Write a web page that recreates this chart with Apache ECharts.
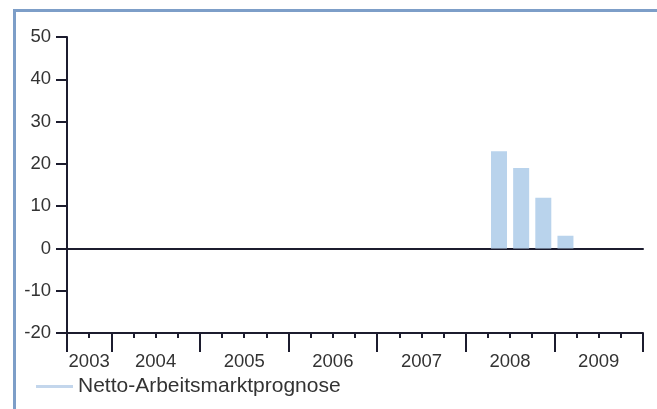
<!DOCTYPE html>
<html>
<head>
<meta charset="utf-8">
<script src="https://cdn.jsdelivr.net/npm/echarts@6/dist/echarts.min.js"></script>
<style>
  html, body { margin: 0; padding: 0; background: #ffffff; }
  #wrap { position: relative; width: 657px; height: 409px; overflow: hidden; }
  #frame { position: absolute; left: 13px; top: 9px; width: 700px; height: 500px;
           border-top: 3px solid #7d9ec8; border-left: 3px solid #7d9ec8; box-sizing: border-box; }
  #chart { position: absolute; left: 0; top: 0; width: 657px; height: 409px; }
</style>
</head>
<body>
<div id="wrap">
  <div id="frame"></div>
  <div id="chart"></div>
</div>
<script>
// Quarterly categories (2003 Q3 .. 2009 Q4)
var quarters = [
  '2003 Q3', '2003 Q4',
  '2004 Q1', '2004 Q2', '2004 Q3', '2004 Q4',
  '2005 Q1', '2005 Q2', '2005 Q3', '2005 Q4',
  '2006 Q1', '2006 Q2', '2006 Q3', '2006 Q4',
  '2007 Q1', '2007 Q2', '2007 Q3', '2007 Q4',
  '2008 Q1', '2008 Q2', '2008 Q3', '2008 Q4',
  '2009 Q1', '2009 Q2', '2009 Q3', '2009 Q4'
];
var seriesName = 'Netto-Arbeitsmarktprognose';
var values = [
  null, null,
  null, null, null, null,
  null, null, null, null,
  null, null, null, null,
  null, null, null, null,
  null, 23, 19, 12,
  3, null, null, null
];
var yMin = -20, yMax = 50, yStep = 10;

// boundaries: boundary i = start of quarter i, last = end
var boundaries = quarters.concat(['end']);
function yearOf(s) { return s.split(' ')[0]; }
var yearFirst = {}, yearLast = {};
quarters.forEach(function (q, i) {
  var y = yearOf(q);
  if (!(y in yearFirst)) yearFirst[y] = i;
  yearLast[y] = i + 1;
});
var labelAt = {};
Object.keys(yearFirst).forEach(function (y) {
  labelAt[(yearFirst[y] + yearLast[y]) / 2] = y;
});
var majorAt = {};
Object.keys(yearFirst).forEach(function (y) { majorAt[yearFirst[y]] = true; majorAt[yearLast[y]] = true; });

var axisColor = '#1c1c2e';
var textColor = '#333333';
var barColor = '#b9d3ec';

var chart = echarts.init(document.getElementById('chart'), null, { renderer: 'canvas' });
chart.setOption({
  backgroundColor: 'transparent',
  animation: false,
  grid: { left: 67, right: 14, top: 37, bottom: 76, containLabel: false },
  legend: {
    left: 36, top: 376, padding: 0,
    icon: 'rect', itemWidth: 37, itemHeight: 3,
    textStyle: { fontFamily: 'Liberation Sans, Arial, sans-serif', fontSize: 21, color: textColor },
    data: [{ name: seriesName, itemStyle: { color: '#c3d6ec' } }]
  },
  xAxis: [
    {
      type: 'category', data: quarters, boundaryGap: true, position: 'bottom',
      axisLine: { show: true, onZero: true, lineStyle: { color: axisColor, width: 2 } },
      axisTick: { show: false }, axisLabel: { show: false }, splitLine: { show: false }
    },
    {
      type: 'category', data: quarters, boundaryGap: true, position: 'bottom',
      axisLine: { show: true, onZero: false, lineStyle: { color: axisColor, width: 2 } },
      axisTick: { show: true, interval: 0, length: 5, lineStyle: { color: axisColor, width: 2 } },
      axisLabel: { show: false }, splitLine: { show: false }
    },
    {
      type: 'category', data: boundaries, boundaryGap: false, position: 'bottom',
      axisLine: { show: false, onZero: false },
      axisTick: {
        show: true, length: 19, lineStyle: { color: axisColor, width: 2 },
        interval: function (i) { return !!majorAt[i]; }
      },
      axisLabel: {
        show: true, margin: 19, fontFamily: 'Liberation Sans, Arial, sans-serif', fontSize: 18.5, color: textColor,
        interval: function (i) { return labelAt[i] !== undefined; },
        formatter: function (v, i) { return labelAt[i] !== undefined ? labelAt[i] : ''; }
      },
      splitLine: { show: false }
    }
  ],
  yAxis: {
    type: 'value', min: yMin, max: yMax, interval: yStep,
    axisLine: { show: true, onZero: false, lineStyle: { color: axisColor, width: 2 } },
    axisTick: { show: true, length: 11, lineStyle: { color: axisColor, width: 2 } },
    axisLabel: { margin: 16, fontFamily: 'Liberation Sans, Arial, sans-serif', fontSize: 18.5, color: textColor },
    splitLine: { show: false }
  },
  series: [{
    name: seriesName, type: 'bar', xAxisIndex: 0, yAxisIndex: 0,
    data: values, barWidth: 16, itemStyle: { color: barColor }
  }]
});
</script>
</body>
</html>
